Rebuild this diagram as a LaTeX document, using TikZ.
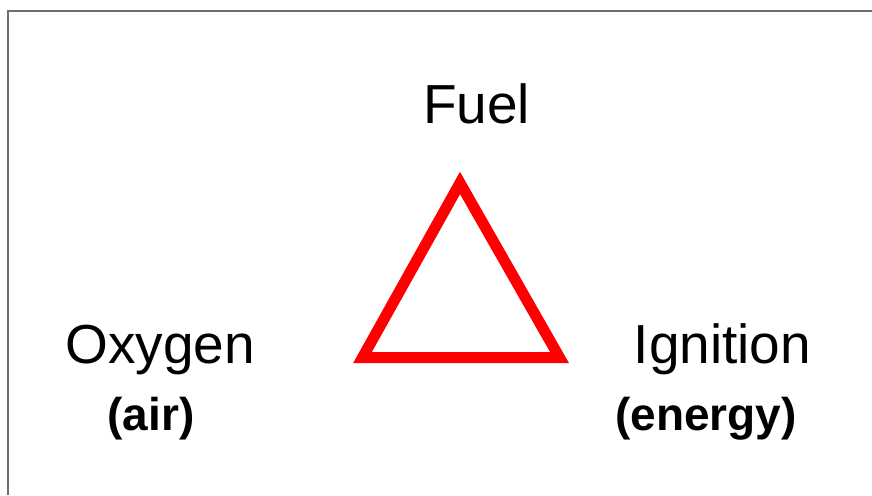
\documentclass[tikz,border=0pt]{standalone}
\usepackage{fontspec}
\setmainfont{Liberation Sans}
\tikzset{
  bigword/.style={anchor=base, inner sep=0pt, font=\fontsize{55}{60}\selectfont},
  smallword/.style={anchor=base, inner sep=0pt, font=\fontsize{46}{50}\selectfont\bfseries}
}
\begin{document}
\begin{tikzpicture}[x=1pt,y=-1pt]
    \useasboundingbox (0,0) rectangle (872,495);
    \draw [line width=2pt, color={rgb,255:red,110;green,110;blue,110}] (8,495)--(8,11)--(872,11);
    \coordinate (top) at (460,183);
    \coordinate (left) at (362.5,357.5);
    \coordinate (right) at (559.5,357.5);
    \draw [red, line width=11pt, line join=miter] (top)--(right)--(left)--cycle;
    \node [bigword] (fuel) at (476.5,123) {Fuel};
    \node [bigword] (oxygen) at (160,363) {Oxygen};
    \node [smallword] (air) at (151,430) {(air)};
    \node [bigword] (ignition) at (722.5,363) {Ignition};
    \node [smallword] (energy) at (706,430) {(energy)};
\end{tikzpicture}
\end{document}
